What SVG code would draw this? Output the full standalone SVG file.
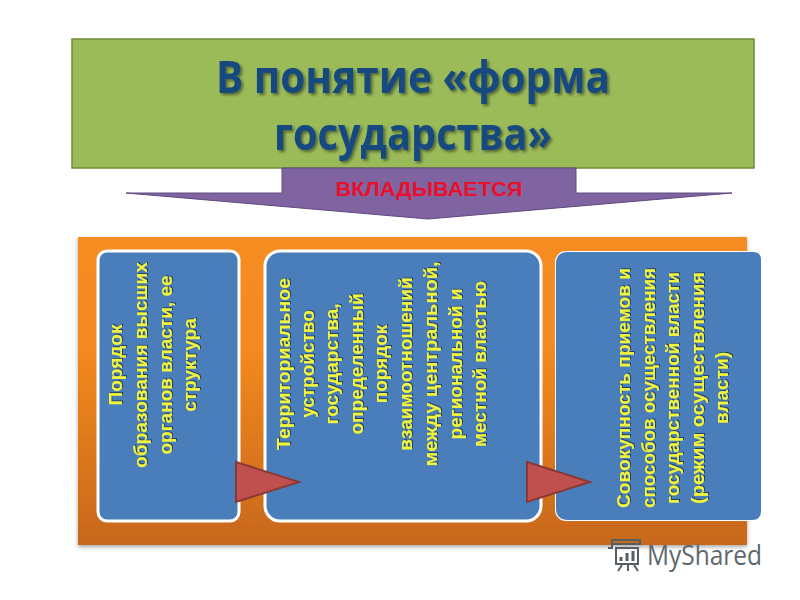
<svg xmlns="http://www.w3.org/2000/svg" width="800" height="600" viewBox="0 0 800 600">
<defs>
<linearGradient id="orange" x1="0" y1="0" x2="0" y2="1"><stop offset="0" stop-color="#f58d22"/><stop offset="0.35" stop-color="#f48a20"/><stop offset="1" stop-color="#c7681a"/></linearGradient>
<filter id="soft" x="-5%" y="-5%" width="110%" height="110%"><feDropShadow dx="0" dy="2" stdDeviation="2" flood-color="#000" flood-opacity="0.35"/></filter>
<filter id="ts" x="-5%" y="-10%" width="110%" height="125%"><feDropShadow dx="2" dy="2" stdDeviation="1.5" flood-color="#000" flood-opacity="0.45"/></filter>
<filter id="ts2" x="-10%" y="-10%" width="120%" height="120%"><feDropShadow dx="1" dy="1" stdDeviation="0.7" flood-color="#000" flood-opacity="0.5"/></filter>
</defs>
<style>
text{font-family:"Open Sans","Liberation Sans",sans-serif}
.title{font-size:44px;font-weight:700;fill:#17497f;text-anchor:middle;filter:url(#ts)}
.body{font-family:"Liberation Sans",sans-serif;font-size:19px;font-weight:700;fill:#f2f53a;text-anchor:middle;filter:url(#ts2)}
.box{fill:#4a7ebb;stroke:#fff;stroke-width:3}
.tri{fill:#c0504d;stroke:#8c3836;stroke-width:2}
</style>
<rect width="800" height="600" fill="#fff"/>
<g id="panel"><rect x="78" y="237" width="669" height="308" fill="url(#orange)" filter="url(#soft)"/></g>
<g id="header">
<rect x="72" y="39" width="682" height="129" fill="#9bbb59" stroke="#6f8a3a" stroke-width="1.5"/>
<text class="title" x="413" y="93" textLength="394" lengthAdjust="spacingAndGlyphs">В понятие «форма</text>
<text class="title" x="413" y="150" textLength="278" lengthAdjust="spacingAndGlyphs">государства»</text>
</g>
<g id="arrow">
<path d="M282 168H576V193H732L428 219L126 193H282Z" fill="#8064a2" stroke="#5f4a7c" stroke-width="1"/>
<text x="429" y="196" style="font-family:'Liberation Sans',sans-serif" font-size="21" font-weight="700" fill="#e8102a" text-anchor="middle" textLength="187" lengthAdjust="spacingAndGlyphs">ВКЛАДЫВАЕТСЯ</text>
</g>
<g id="box1">
<rect class="box" x="98" y="251" width="141" height="270" rx="9"/>
<g transform="translate(0,365) rotate(-90)">
<text class="body" x="0" y="122">Порядок</text>
<text class="body" x="0" y="147" textLength="206" lengthAdjust="spacingAndGlyphs">образования высших</text>
<text class="body" x="0" y="172">органов власти, ее</text>
<text class="body" x="0" y="196">структура</text>
</g>
</g>
<g id="box2">
<rect class="box" x="265" y="251" width="276" height="270" rx="15"/>
<g transform="translate(0,364) rotate(-90)">
<text class="body" x="0" y="290" textLength="172" lengthAdjust="spacingAndGlyphs">Территориальное</text>
<text class="body" x="0" y="314">устройство</text>
<text class="body" x="0" y="338">государства,</text>
<text class="body" x="0" y="363">определенный</text>
<text class="body" x="0" y="387">порядок</text>
<text class="body" x="0" y="412">взаимоотношений</text>
<text class="body" x="0" y="437" textLength="205" lengthAdjust="spacingAndGlyphs">между центральной,</text>
<text class="body" x="0" y="462">региональной и</text>
<text class="body" x="0" y="486">местной властью</text>
</g>
</g>
<g id="box3">
<rect x="555" y="251" width="206" height="270" rx="11" fill="#fff"/>
<path d="M568 252H753Q761 252 761 260V511Q761 520 752 520H568Q556 520 556 508V264Q556 252 568 252Z" fill="#4a7ebb"/>
<g transform="translate(0,388) rotate(-90)">
<text class="body" x="0" y="630" textLength="240" lengthAdjust="spacingAndGlyphs">Совокупность приемов и</text>
<text class="body" x="0" y="655" textLength="240" lengthAdjust="spacingAndGlyphs">способов осуществления</text>
<text class="body" x="0" y="679" textLength="232" lengthAdjust="spacingAndGlyphs">государственной власти</text>
<text class="body" x="0" y="704" textLength="232" lengthAdjust="spacingAndGlyphs">(режим осуществления</text>
<text class="body" x="0" y="728">власти)</text>
</g>
</g>
<g id="connectors">
<path class="tri" d="M236 462L299 482L236 502Z"/>
<path class="tri" d="M527 462L590 482L527 502Z"/>
</g>
<g id="watermark" fill="none" stroke="#555f63" stroke-width="2">
<path d="M612 540H640V544H612ZM612 544V548H608M616 548H638V564H616ZM622 565L618 571M628 565V571M634 565L638 571"/>
<path d="M621 561V557M627 561V553M633 561V551" stroke-width="3"/>
<text x="647" y="565" font-size="28" font-weight="400" fill="#5d686c" stroke="none" textLength="115" lengthAdjust="spacingAndGlyphs">MyShared</text>
</g>
</svg>
